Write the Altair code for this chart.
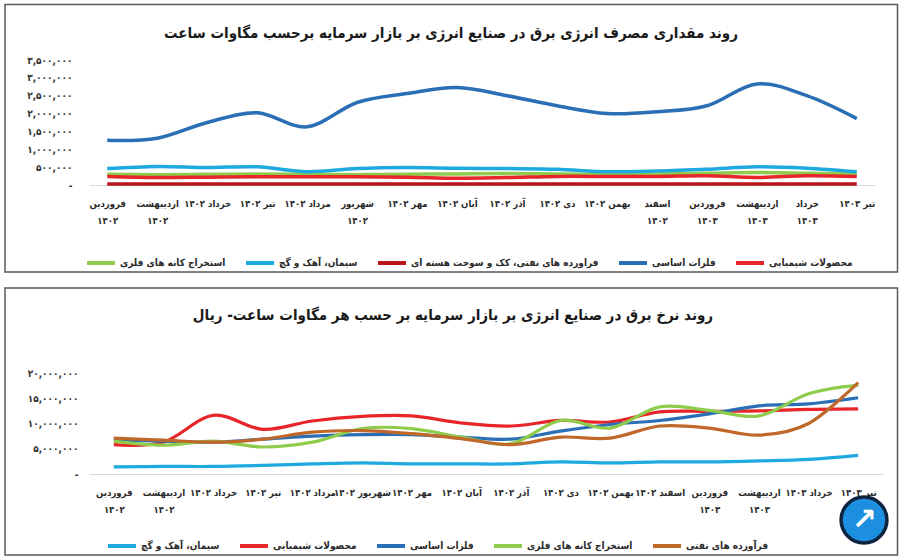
import json
import altair as alt
import pandas as pd

FONT = "'DejaVu Sans Condensed', 'DejaVu Sans'"

months = ["فروردین ۱۴۰۲", "اردیبهشت ۱۴۰۲", "خرداد ۱۴۰۲", "تیر ۱۴۰۲", "مرداد ۱۴۰۲",
          "شهریور ۱۴۰۲", "مهر ۱۴۰۲", "آبان ۱۴۰۲", "آذر ۱۴۰۲", "دی ۱۴۰۲", "بهمن ۱۴۰۲",
          "اسفند ۱۴۰۲", "فروردین ۱۴۰۳", "اردیبهشت ۱۴۰۳", "خرداد ۱۴۰۳", "تیر ۱۴۰۳"]

# labels shown on two lines
wrap_top = ["فروردین ۱۴۰۲", "اردیبهشت ۱۴۰۲", "شهریور ۱۴۰۲", "اسفند ۱۴۰۲",
            "فروردین ۱۴۰۳", "اردیبهشت ۱۴۰۳", "خرداد ۱۴۰۳"]
wrap_bottom = ["فروردین ۱۴۰۲", "اردیبهشت ۱۴۰۲", "فروردین ۱۴۰۳", "اردیبهشت ۱۴۰۳"]

title_top = "روند مقداری مصرف انرژی برق در صنایع انرژی بر بازار سرمایه  برحسب مگاوات ساعت"
title_bottom = "روند نرخ برق در صنایع انرژی بر بازار سرمایه بر حسب هر مگاوات ساعت- ریال"

# ---- top chart: consumption (MWh)
top_series = ["استخراج کانه های فلزی", "سیمان، آهک و گچ",
              "فراورده های نفتی، کک و سوخت هسته ای", "فلزات اساسی", "محصولات شیمیایی"]
top_colors = ["#8fcc4c", "#1eaadf", "#b8151b", "#2a6fb5", "#e8262a"]
top_green = [300000, 290000, 300000, 310000, 300000, 290000, 300000, 310000,
             320000, 310000, 300000, 310000, 330000, 350000, 330000, 310000]
top_cyan = [460000, 520000, 490000, 510000, 370000, 460000, 490000, 470000,
            460000, 440000, 370000, 390000, 440000, 510000, 470000, 370000]
top_darkred = [30000, 30000, 30000, 30000, 30000, 30000, 30000, 30000,
               30000, 30000, 30000, 30000, 30000, 30000, 30000, 30000]
top_blue = [1250000, 1310000, 1750000, 2020000, 1630000, 2310000, 2560000, 2730000,
            2500000, 2220000, 2000000, 2050000, 2220000, 2830000, 2500000, 1860000]
top_red = [240000, 210000, 220000, 230000, 230000, 230000, 220000, 190000,
           210000, 240000, 240000, 240000, 260000, 210000, 260000, 240000]

# ---- bottom chart: price (Rial per MWh)
bottom_series = ["سیمان، آهک و گچ", "محصولات شیمیایی", "فلزات اساسی",
                 "استخراج کانه های فلزی", "فرآورده های نفتی"]
bottom_colors = ["#1eaadf", "#e8262a", "#2a6fb5", "#8fcc4c", "#c0672a"]
bot_cyan = [1400000, 1500000, 1500000, 1700000, 2000000, 2200000, 2000000, 2000000,
            2000000, 2400000, 2200000, 2400000, 2400000, 2600000, 2900000, 3700000]
bot_red = [5800000, 6300000, 11600000, 8850000, 10500000, 11400000, 11500000, 10100000,
           9500000, 10600000, 10300000, 12300000, 12400000, 12500000, 12800000, 12900000]
bot_blue = [6700000, 6500000, 6300000, 6900000, 7500000, 7800000, 7800000, 7300000,
            6900000, 8500000, 9800000, 10600000, 11900000, 13500000, 13900000, 15100000]
bot_green = [6500000, 5700000, 6500000, 5350000, 6300000, 9000000, 9000000, 7300000,
             6000000, 10600000, 9100000, 13300000, 12600000, 11500000, 15900000, 17600000]
bot_orange = [7100000, 6700000, 6300000, 6900000, 8300000, 8600000, 8000000, 7000000,
              5800000, 7300000, 7100000, 9500000, 9100000, 7700000, 10000000, 18100000]


def long_df(series, arrays):
    rows = []
    for s, arr in zip(series, arrays):
        for m, v in zip(months, arr):
            rows.append({"month": m, "series": s, "value": v})
    return pd.DataFrame(rows)


df_top = long_df(top_series, [top_green, top_cyan, top_darkred, top_blue, top_red])
df_bot = long_df(bottom_series, [bot_cyan, bot_red, bot_blue, bot_green, bot_orange])


def fa_num_expr(inner):
    expr = inner
    for d, fa in zip("0123456789", "۰۱۲۳۴۵۶۷۸۹"):
        expr = f"replace({expr}, regexp('{d}', 'g'), '{fa}')"
    return expr


Y_LABEL_EXPR = "datum.value == 0 ? '-\u00a0\u00a0\u00a0' : " + fa_num_expr("format(datum.value, ',')")


def x_label_expr(wrap):
    return (f"indexof({json.dumps(wrap, ensure_ascii=False)}, datum.label) >= 0 "
            f"? split(datum.label, ' ') : datum.label")


def panel(df, series, colors, wrap, width, height, xpad, ymax, ystep, label_pad,
          box, title_text, title_xy, legend_xy, stroke_w, logo=None):
    lines = alt.Chart(df).mark_line(interpolate="cardinal", strokeWidth=stroke_w).encode(
        x=alt.X("month:N", sort=months, title=None,
                scale=alt.Scale(type="point", padding=xpad),
                axis=alt.Axis(labelExpr=x_label_expr(wrap), labelAngle=0, labelFont=FONT,
                              labelFontSize=9.5, labelFontWeight="bold", labelColor="#2b2b2b",
                              labelPadding=13, labelLineHeight=17, ticks=False,
                              domainColor="#d9d9d9", domainWidth=1, grid=False,
                              labelOverlap=False, labelLimit=200)),
        y=alt.Y("value:Q", title=None,
                scale=alt.Scale(domain=[0, ymax], nice=False),
                axis=alt.Axis(values=list(range(0, ymax + 1, ystep)), labelExpr=Y_LABEL_EXPR,
                              labelFont=FONT, labelFontSize=10, labelFontWeight="bold",
                              labelColor="#333333", ticks=False, domain=False, grid=False,
                              labelPadding=label_pad)),
        color=alt.Color("series:N", sort=series,
                        scale=alt.Scale(domain=series, range=colors),
                        legend=alt.Legend(orient="none", legendX=legend_xy[0],
                                          legendY=legend_xy[1], direction="horizontal",
                                          title=None, symbolType="stroke", symbolSize=784,
                                          symbolStrokeWidth=4, labelFont=FONT,
                                          labelFontSize=10, labelFontWeight="bold",
                                          labelColor="#2b2b2b", columnPadding=12,
                                          labelOffset=3, labelLimit=300)),
    )
    border = alt.Chart(pd.DataFrame({"k": [0]})).mark_rect(
        fillOpacity=0, stroke="#595959", strokeWidth=1.5
    ).encode(x=alt.value(box[0]), x2=alt.value(box[1]), y=alt.value(box[2]), y2=alt.value(box[3]))
    title = alt.Chart(pd.DataFrame({"t": [title_text]})).mark_text(
        font=FONT, fontSize=15, fontWeight="bold", color="#1a1a1a",
        align="center", baseline="middle"
    ).encode(text="t:N", x=alt.value(title_xy[0]), y=alt.value(title_xy[1]))
    layers = [border, lines, title]
    if logo is not None:
        logo_df = pd.DataFrame({"k": [0]})
        ring = alt.Chart(logo_df).mark_point(
            shape="circle", filled=True, fill="#1d8fe0", stroke="#0c2440", strokeWidth=3.5,
            size=2100, opacity=1
        ).encode(x=alt.value(logo[0]), y=alt.value(logo[1]))
        arrow = alt.Chart(pd.DataFrame({"t": ["↗"]})).mark_text(
            font="DejaVu Sans", fontSize=30, fontWeight="bold", color="white",
            align="center", baseline="middle"
        ).encode(text="t:N", x=alt.value(logo[0]), y=alt.value(logo[1]))
        layers += [ring, arrow]
    return alt.layer(*layers).properties(width=width, height=height)


top = panel(df_top, top_series, top_colors, wrap_top, 786, 125, 0.365, 3500000, 500000, 17,
            (-84, 808.5, -55.5, 212), title_top, (362, -27), (-4, 187), 3.5)
bottom = panel(df_bot, bottom_series, bottom_colors, wrap_bottom, 794, 101, 0.5, 20000000, 5000000, 11,
               (-84, 808.5, -85, 182), title_bottom, (364, -58), (17, 157), 3.2,
               logo=(775, 147))

chart = alt.vconcat(top, bottom, spacing=14).resolve_scale(
    color="independent", x="independent", y="independent"
).properties(
    padding={"left": 4, "top": 3, "right": 0, "bottom": 0},
    background="white",
).configure_view(stroke=None)

chart.save("out.html", embed_options={"renderer": "svg", "actions": False})
